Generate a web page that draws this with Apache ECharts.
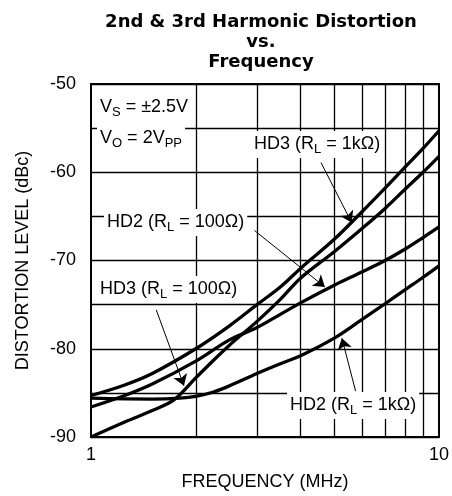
<!DOCTYPE html>
<html><head><meta charset="utf-8">
<script src="https://cdn.jsdelivr.net/npm/echarts@6/dist/echarts.min.js"></script>
<style>html,body{margin:0;padding:0;background:#fff}#c{width:452px;height:496px}</style>
</head><body><div id="c"></div>
<script>
// ---- data ----
const hd3_1k_freq  = [1, 1.25, 1.5, 2, 2.5, 3, 3.5, 4, 5, 6, 7, 8, 9, 10];
const hd3_1k_level = [-85.3, -84.1, -82.8, -80.0, -77.4, -75.0, -73.0, -70.9, -67.6, -64.5, -61.8, -59.4, -57.3, -55.3];

const hd3_100_freq  = [1, 1.25, 1.5, 1.73, 2, 2.25, 2.5, 2.75, 3, 3.5, 4, 5, 6, 7, 8, 9, 10];
const hd3_100_level = [-90.0, -88.3, -87.0, -85.8, -83.3, -81.3, -79.6, -78.2, -76.9, -74.4, -72.0, -69.0, -66.4, -64.1, -61.9, -60.0, -58.2];

const hd2_100_freq  = [1, 1.25, 1.5, 2, 2.5, 3, 3.5, 4, 5, 6, 7, 8, 9, 10];
const hd2_100_level = [-86.6, -85.3, -84.0, -81.4, -79.0, -77.6, -76.1, -74.8, -72.8, -71.3, -70.0, -68.7, -67.4, -66.2];

const hd2_1k_freq  = [1, 1.5, 1.8, 2, 2.25, 2.5, 3, 3.5, 4, 5, 6, 7, 8, 9, 10];
const hd2_1k_level = [-85.6, -85.7, -85.6, -85.4, -84.9, -84.2, -82.8, -81.7, -80.8, -78.8, -76.7, -74.9, -73.3, -71.9, -70.6];

const xMinorTicks = [2, 3, 4, 5, 6, 7, 8, 9];
const yTickLabels = [-90, -80, -70, -60, -50];

// arrow annotations: [from, to] in data coordinates (MHz, dBc)
const arrowHD3_1k  = [[4.58, -58.9], [5.61, -65.7]];
const arrowHD2_100 = [[2.95, -66.6], [4.70, -73.0]];
const arrowHD3_100 = [[1.54, -75.6], [1.85, -84.2]];
const arrowHD2_1k  = [[5.76, -84.8], [5.26, -78.8]];

// ---- chart ----
const FONT = '"Liberation Sans", Arial, sans-serif';
function pairs(f, v) { return f.map((x, i) => [x, v[i]]); }
const curveLine = { color: '#000', width: 3.3 };
function curve(name, f, v) {
  return { type: 'line', name, data: pairs(f, v), smooth: 0.35, showSymbol: false,
           lineStyle: curveLine, itemStyle: { color: '#000' }, z: 5, silent: true };
}
const sub = { fontSize: 13, fontFamily: FONT, padding: [10, 0, 0, 0], fill: '#000', color: '#000' };
function anno(text, left, top) {
  return { type: 'text', left, top, z: 50,
    style: { text, font: '18px ' + FONT, fill: '#000', backgroundColor: '#fff',
             padding: [2, 3, 2, 3], rich: { s: sub } } };
}

const chart = echarts.init(document.getElementById('c'));
chart.setOption({
  animation: false,
  backgroundColor: '#fff',
  grid: { left: 91, right: 10, top: 84, bottom: 59, show: true, borderColor: '#000', borderWidth: 2 },
  xAxis: {
    type: 'log', logBase: 10, min: 1, max: 10,
    axisLine: { show: true, lineStyle: { color: '#000', width: 2 } },
    axisTick: { show: false }, splitLine: { show: false }, minorTick: { show: false },
    axisLabel: { fontSize: 18, color: '#000', fontFamily: FONT, margin: 9 },
    name: 'FREQUENCY (MHz)', nameLocation: 'middle', nameGap: 36,
    nameTextStyle: { fontSize: 18, color: '#000', fontFamily: FONT }
  },
  yAxis: {
    type: 'value', min: -90, max: -50, interval: 5,
    axisLine: { show: true, lineStyle: { color: '#000', width: 2 } },
    axisTick: { show: false },
    splitLine: { show: true, lineStyle: { color: '#000', width: 1.3 } },
    axisLabel: { fontSize: 18, color: '#000', fontFamily: FONT, margin: 15,
                 formatter: v => yTickLabels.includes(v) ? String(v) : '' },
    name: 'DISTORTION LEVEL (dBc)', nameLocation: 'middle', nameGap: 59,
    nameTextStyle: { fontSize: 18, color: '#000', fontFamily: FONT }
  },
  series: [
    { type: 'line', name: 'minorGrid', data: [], silent: true, z: 1,
      markLine: { symbol: 'none', silent: true, label: { show: false }, animation: false,
        lineStyle: { color: '#000', width: 1.3, type: 'solid' },
        emphasis: { disabled: true },
        data: xMinorTicks.map(v => ({ xAxis: v })) } },
    curve('HD3 (RL = 1kΩ)', hd3_1k_freq, hd3_1k_level),
    curve('HD3 (RL = 100Ω)', hd3_100_freq, hd3_100_level),
    curve('HD2 (RL = 100Ω)', hd2_100_freq, hd2_100_level),
    curve('HD2 (RL = 1kΩ)', hd2_1k_freq, hd2_1k_level),
    { type: 'line', name: 'arrows', data: [], silent: true, z: 60, itemStyle: { color: '#000' },
      markLine: { symbol: ['none', 'arrow'], symbolSize: 11, silent: true, animation: false,
        label: { show: false }, emphasis: { disabled: true },
        lineStyle: { color: '#000', width: 1, type: 'solid' },
        itemStyle: { color: '#000' },
        data: [arrowHD3_1k, arrowHD2_100, arrowHD3_100, arrowHD2_1k].map(a => [{ coord: a[0] }, { coord: a[1] }]) } }
  ],
  graphic: [
    { type: 'text', x: 261, y: 12, z: 50,
      style: { text: '2nd & 3rd Harmonic Distortion\nvs.\nFrequency', font: 'bold 18px "DejaVu Sans"',
               align: 'center', textAlign: 'center', verticalAlign: 'top', lineHeight: 20, fill: '#000' } },
    anno('V{s|S} = ±2.5V', 97, 94),
    anno('V{s|O} = 2V{s|PP}', 97, 125),
    anno('HD2 (R{s|L} = 100Ω)', 104, 209),
    anno('HD3 (R{s|L} = 1kΩ)', 251, 131),
    anno('HD3 (R{s|L} = 100Ω)', 97, 276),
    anno('HD2 (R{s|L} = 1kΩ)', 287, 392)
  ]
});
</script>
</body></html>
